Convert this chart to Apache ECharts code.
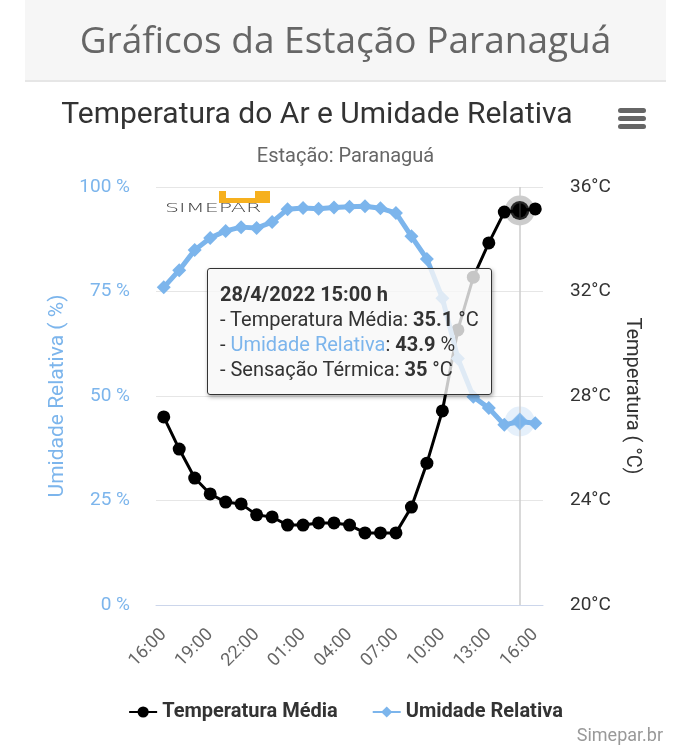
<!DOCTYPE html>
<html>
<head>
<meta charset="utf-8">
<script src="https://cdn.jsdelivr.net/npm/echarts@6/dist/echarts.min.js"></script>
<style>
  html, body { margin: 0; padding: 0; background: #fff; }
  #chart { width: 691px; height: 750px; }
</style>
</head>
<body>
<div id="chart"></div>
<script>
// ---- data ----
const hours = ['16:00','17:00','18:00','19:00','20:00','21:00','22:00','23:00','00:00','01:00','02:00','03:00','04:00','05:00','06:00','07:00','08:00','09:00','10:00','11:00','12:00','13:00','14:00','15:00','16:00'];
const temperature = [27.2, 25.97, 24.86, 24.25, 23.94, 23.87, 23.45, 23.37, 23.06, 23.06, 23.14, 23.14, 23.06, 22.76, 22.76, 22.76, 23.75, 25.43, 27.43, 30.53, 32.55, 33.86, 35.04, 35.1, 35.16];
const humidity = [76.0, 80.1, 84.9, 87.8, 89.5, 90.4, 90.2, 91.6, 94.7, 95.0, 94.8, 95.1, 95.3, 95.4, 94.9, 93.8, 88.2, 82.8, 73.4, 59.0, 49.8, 47.1, 43.1, 43.9, 43.5];
const feelsLike = [null, null, null, null, null, null, null, null, null, null, null, null, null, null, null, null, null, null, null, null, null, null, null, 35, null];
const humidityTicks = [0, 25, 50, 75, 100];
const temperatureTicks = [20, 24, 28, 32, 36];
const hoverIndex = 23;
const hoverDate = '28/4/2022';

const BLUE = '#7cb5ec';
const chart = echarts.init(document.getElementById('chart'), null, { renderer: 'canvas' });

const option = {
  animation: false,
  backgroundColor: '#ffffff',
  title: [
    { text: 'Gráficos da Estação Paranaguá', left: 'center', top: 19,
      textStyle: { fontFamily: 'Open Sans', fontSize: 37, fontWeight: 'normal', color: '#666666' } },
    { text: 'Temperatura do Ar e Umidade Relativa', left: 312, textAlign: 'center', top: 95,
      textStyle: { fontFamily: 'Roboto', fontSize: 30, fontWeight: 'normal', color: '#333333' } },
    { text: 'Estação: Paranaguá', left: 'center', top: 142,
      textStyle: { fontFamily: 'Roboto', fontSize: 20, fontWeight: 'normal', color: '#666666' } }
  ],
  graphic: [
    { type: 'rect', z: -10, shape: { x: 25, y: 0, width: 641, height: 80 }, style: { fill: '#f6f6f6' } },
    { type: 'line', z: -10, shape: { x1: 25, y1: 81, x2: 666, y2: 81 }, style: { stroke: '#e6e6e6', lineWidth: 2 } },
    // hamburger menu
    { type: 'rect', shape: { x: 618, y: 108, width: 28, height: 5, r: 2.5 }, style: { fill: '#666666' } },
    { type: 'rect', shape: { x: 618, y: 116, width: 28, height: 5, r: 2.5 }, style: { fill: '#666666' } },
    { type: 'rect', shape: { x: 618, y: 124, width: 28, height: 5, r: 2.5 }, style: { fill: '#666666' } },
    // Simepar logo
    { type: 'rect', shape: { x: 219, y: 191, width: 51, height: 12 }, style: { fill: '#f6b01e' } },
    { type: 'rect', shape: { x: 226, y: 191, width: 29, height: 7 }, style: { fill: '#ffffff' } },
    { type: 'text', x: 165, y: 203, scaleX: 1.85, style: { text: 'SIMEPAR', font: '300 12px "DejaVu Sans"', fill: '#444444' } },
    // credits
    { type: 'text', right: 28, top: 727, style: { text: 'Simepar.br', font: '18px Roboto', fill: '#999999' } }
  ],
  legend: {
    data: ['Temperatura Média', 'Umidade Relativa'],
    left: 'center', top: 697,
    itemWidth: 28, itemHeight: 14, itemGap: 34,
    textStyle: { fontFamily: 'Roboto', fontSize: 20, fontWeight: 'bold', color: '#333333' }
  },
  tooltip: {
    trigger: 'axis',
    alwaysShowContent: true,
    transitionDuration: 0,
    position: function () { return [207, 268]; },
    backgroundColor: 'rgba(247,247,247,0.8)',
    borderColor: '#333333',
    borderWidth: 1.5,
    padding: [13, 12, 12, 12],
    textStyle: { fontFamily: 'Roboto', fontSize: 20, color: '#333333' },
    extraCssText: 'box-shadow: 1px 2px 4px rgba(0,0,0,0.35); border-radius: 3px; line-height: 25px;',
    axisPointer: { type: 'line', lineStyle: { color: '#cccccc', width: 1.5, type: 'solid' } },
    formatter: function (params) {
      const i = params[0].dataIndex;
      return '<b>' + hoverDate + ' ' + hours[i] + ' h</b><br>' +
        '- Temperatura Média: <b>' + temperature[i] + '</b> °C<br>' +
        '- <span style="color:' + BLUE + '">Umidade Relativa</span>: <b>' + humidity[i] + '</b> %<br>' +
        '- Sensação Térmica: <b>' + feelsLike[i] + '</b> °C';
    }
  },
  grid: { left: 156, right: 148, top: 187, bottom: 145 },
  xAxis: {
    type: 'category',
    data: hours,
    boundaryGap: true,
    axisLine: { lineStyle: { color: '#ccd6eb' } },
    axisTick: { show: false },
    axisLabel: { interval: 2, rotate: 45, margin: 27, fontFamily: 'Roboto', fontSize: 18, color: '#666666' }
  },
  yAxis: [
    {
      type: 'value', min: humidityTicks[0], max: humidityTicks[humidityTicks.length - 1], interval: 25,
      position: 'left',
      name: 'Umidade Relativa ( %)', nameLocation: 'middle', nameRotate: 90, nameGap: 86,
      nameTextStyle: { fontFamily: 'Roboto', fontSize: 21, color: BLUE },
      axisLine: { show: false }, axisTick: { show: false },
      axisLabel: { formatter: '{value} %', margin: 26, fontFamily: 'Roboto', fontSize: 19, color: BLUE },
      splitLine: { lineStyle: { color: '#e6e6e6', width: 1 } }
    },
    {
      type: 'value', min: temperatureTicks[0], max: temperatureTicks[temperatureTicks.length - 1], interval: 4,
      position: 'right',
      name: 'Temperatura ( °C)', nameLocation: 'middle', nameRotate: -90, nameGap: 79,
      nameTextStyle: { fontFamily: 'Roboto', fontSize: 20, color: '#333333' },
      axisLine: { show: false }, axisTick: { show: false },
      axisLabel: { formatter: '{value}°C', margin: 27, fontFamily: 'Roboto', fontSize: 19, color: '#333333' },
      splitLine: { show: false }
    }
  ],
  series: [
    {
      name: 'Temperatura Média', type: 'line', yAxisIndex: 1, data: temperature,
      symbol: 'circle', symbolSize: 13, showAllSymbol: true, color: '#000000',
      lineStyle: { width: 3, color: '#000000' },
      itemStyle: { color: '#000000' },
      emphasis: { disabled: true }, z: 2
    },
    {
      name: 'Umidade Relativa', type: 'line', yAxisIndex: 0, data: humidity,
      symbol: 'diamond', symbolSize: 14, showAllSymbol: true, color: BLUE,
      lineStyle: { width: 5, color: BLUE },
      itemStyle: { color: BLUE },
      emphasis: { disabled: true }, z: 3
    },
    // hover halos and enlarged markers at the hovered point
    {
      name: 'haloT', type: 'scatter', yAxisIndex: 1, silent: true, z: 4,
      data: [[hoverIndex, temperature[hoverIndex]]], symbol: 'circle', symbolSize: 30,
      itemStyle: { color: 'rgba(0,0,0,0.25)' }, tooltip: { show: false }
    },
    {
      name: 'hoverT', type: 'scatter', yAxisIndex: 1, silent: true, z: 60,
      data: [[hoverIndex, temperature[hoverIndex]]], symbol: 'circle', symbolSize: 19,
      itemStyle: { color: '#000000' }, tooltip: { show: false }
    },
    {
      name: 'haloH', type: 'scatter', yAxisIndex: 0, silent: true, z: 4,
      data: [[hoverIndex, humidity[hoverIndex]]], symbol: 'circle', symbolSize: 30,
      itemStyle: { color: 'rgba(124,181,236,0.25)' }, tooltip: { show: false }
    },
    {
      name: 'hoverH', type: 'scatter', yAxisIndex: 0, silent: true, z: 60,
      data: [[hoverIndex, humidity[hoverIndex]]], symbol: 'diamond', symbolSize: 18,
      itemStyle: { color: BLUE }, tooltip: { show: false }
    }
  ]
};
chart.setOption(option);
chart.dispatchAction({ type: 'showTip', seriesIndex: 0, dataIndex: hoverIndex });
</script>
</body>
</html>
